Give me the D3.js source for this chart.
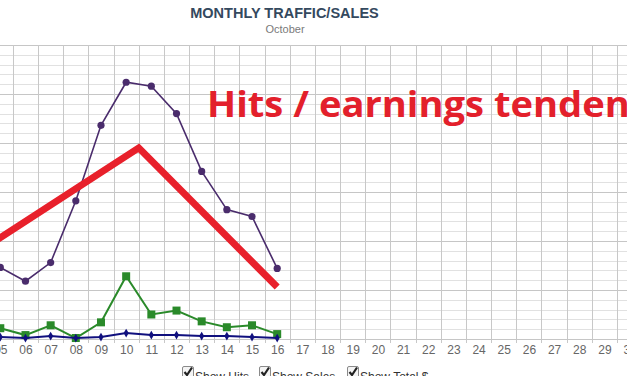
<!DOCTYPE html>
<html>
<head>
<meta charset="utf-8">
<script src="https://cdn.jsdelivr.net/npm/d3@7"></script>
<style>
  body { margin: 0; background: #fff; overflow: hidden; }
  svg { display: block; }
</style>
</head>
<body>
<div class="board"></div>
<script>
// Chart data
var days = [5, 6, 7, 8, 9, 10, 11, 12, 13, 14, 15, 16];
var axisDays = d3.range(5, 31);
var hits = [73, 59, 78, 141, 218, 262, 258, 230, 171, 132, 125, 72];
var sales = [11, 4, 14, 1, 17, 64, 25, 29, 18, 12, 14, 5];
var totals = [2, 1, 3, 1, 2, 6, 4, 4, 3, 3, 2, 1];
var trendDays = [4.5, 10.5, 16];
var trendValues = [95, 195, 53];
var legendLabels = ['Show Hits', 'Show Sales', 'Show Total $'];

var settings = {
  w: 627,
  h: 376,
  top: 45,
  bottom: 339
};

var svg = d3.select('.board')
  .append('svg')
  .attr('width', settings.w)
  .attr('height', settings.h);

var x = d3.scaleLinear().domain([5, 30]).range([0.3, 629.6]);
var y = d3.scaleLinear().domain([0, 300]).range([settings.bottom, settings.top]);

// horizontal grid
svg.append('g')
  .selectAll('line')
  .data(d3.range(10, 301, 10))
  .enter()
  .append('line')
  .attr('x1', 0)
  .attr('x2', settings.w)
  .attr('y1', function(d) { return Math.round(y(d)) + 0.5; })
  .attr('y2', function(d) { return Math.round(y(d)) + 0.5; })
  .attr('stroke', function(d) { return d % 50 === 0 ? '#c6c6c6' : '#e1e1e1'; })
  .attr('stroke-width', 1);

// vertical grid on day boundaries
svg.append('g')
  .selectAll('line')
  .data(axisDays.map(function(d) { return d + 0.5; }))
  .enter()
  .append('line')
  .attr('x1', function(d) { return Math.round(x(d)) + 0.5; })
  .attr('x2', function(d) { return Math.round(x(d)) + 0.5; })
  .attr('y1', settings.top)
  .attr('y2', settings.bottom + 4)
  .attr('stroke', '#c8c8c8');

// x axis line
svg.append('line')
  .attr('x1', 0).attr('x2', settings.w)
  .attr('y1', settings.bottom + 0.5).attr('y2', settings.bottom + 0.5)
  .attr('stroke', '#c6c6c6');

// x axis labels
var xAxis = d3.axisBottom(x)
  .tickValues(axisDays)
  .tickFormat(d3.format('02d'))
  .tickSize(0)
  .tickPadding(6);

svg.append('g')
  .attr('transform', 'translate(0,' + settings.bottom + ')')
  .call(xAxis)
  .call(function(g) { g.select('.domain').remove(); })
  .selectAll('text')
  .attr('fill', '#666')
  .style('font-family', 'Liberation Sans, Arial, sans-serif')
  .style('font-size', '12px');

// series
function drawSeries(values, color, width) {
  var line = d3.line()
    .x(function(d, i) { return x(days[i]); })
    .y(function(d) { return y(d); });
  svg.append('path')
    .datum(values)
    .attr('d', line)
    .attr('fill', 'none')
    .attr('stroke', color)
    .attr('stroke-width', width);
}

drawSeries(hits, '#4a2c6c', 1.6);
svg.selectAll('circle.hit')
  .data(hits)
  .enter()
  .append('circle')
  .attr('class', 'hit')
  .attr('cx', function(d, i) { return x(days[i]); })
  .attr('cy', function(d) { return y(d); })
  .attr('r', 3.6)
  .attr('fill', '#4a2c6c');

drawSeries(sales, '#2a8a2a', 2);
svg.selectAll('rect.sale')
  .data(sales)
  .enter()
  .append('rect')
  .attr('class', 'sale')
  .attr('x', function(d, i) { return x(days[i]) - 4; })
  .attr('y', function(d) { return y(d) - 4; })
  .attr('width', 8)
  .attr('height', 8)
  .attr('fill', '#2a8a2a');

drawSeries(totals, '#10107e', 2);
svg.selectAll('path.total')
  .data(totals)
  .enter()
  .append('path')
  .attr('class', 'total')
  .attr('d', d3.symbol().type(d3.symbolDiamond).size(22))
  .attr('transform', function(d, i) { return 'translate(' + x(days[i]) + ',' + y(d) + ')'; })
  .attr('fill', '#10107e');

// hand drawn tendency line
var trend = d3.line()
  .x(function(d) { return x(d); })
  .y(function(d, i) { return y(trendValues[i]); });

svg.append('path')
  .datum(trendDays)
  .attr('d', trend)
  .attr('fill', 'none')
  .attr('stroke', '#e8202b')
  .attr('stroke-width', 7)
  .attr('stroke-linejoin', 'miter');

svg.append('text')
  .attr('transform', 'translate(207,117) scale(1.09,1)')
  .attr('fill', '#e3202b')
  .style('font-family', 'Open Sans, sans-serif')
  .style('font-weight', 'bold')
  .style('font-size', '35px')
  .text('Hits / earnings tendence');

// title
svg.append('text')
  .attr('x', 284.5)
  .attr('y', 18)
  .attr('text-anchor', 'middle')
  .attr('fill', '#34495e')
  .style('font-family', 'Liberation Sans, Arial, sans-serif')
  .style('font-weight', 'bold')
  .style('font-size', '14.5px')
  .text('MONTHLY TRAFFIC/SALES');

svg.append('text')
  .attr('x', 285)
  .attr('y', 33)
  .attr('text-anchor', 'middle')
  .attr('fill', '#7a7a7a')
  .style('font-family', 'Liberation Sans, Arial, sans-serif')
  .style('font-size', '11px')
  .text('October');

// legend checkboxes
var legendX = [182, 259, 347];
var legend = svg.selectAll('g.legend')
  .data(legendLabels)
  .enter()
  .append('g')
  .attr('class', 'legend')
  .attr('transform', function(d, i) { return 'translate(' + legendX[i] + ',366)'; });

legend.append('rect')
  .attr('x', 0.5).attr('y', 0.5)
  .attr('width', 11).attr('height', 11)
  .attr('rx', 1.5)
  .attr('fill', '#f4f4f4')
  .attr('stroke', '#8a8a8a');

legend.append('path')
  .attr('d', 'M2.5,6 L5,9 L10,1.5')
  .attr('fill', 'none')
  .attr('stroke', '#222')
  .attr('stroke-width', 2.2);

legend.append('text')
  .attr('x', 13)
  .attr('y', 15)
  .attr('fill', '#333')
  .style('font-family', 'Liberation Sans, Arial, sans-serif')
  .style('font-size', '12px')
  .text(function(d) { return d; });
</script>
</body>
</html>
